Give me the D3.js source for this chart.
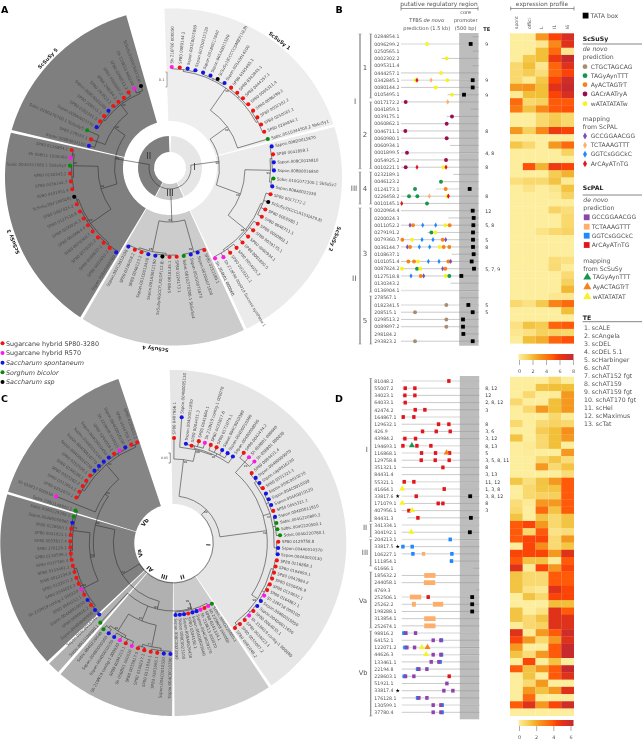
<!DOCTYPE html>
<html><head><meta charset="utf-8">
<script src="https://cdn.jsdelivr.net/npm/d3@7"></script>
<style>
html,body{margin:0;padding:0;background:#fff}
svg{display:block;will-change:transform}
text{font-family:"DejaVu Sans",sans-serif}
</style></head><body><div id="c"></div>
<script>
/* ===== DATA ===== */
const treeA_S1=["Sh 216F06 000050","SP80 0080144.2","Sspon.001E0015080","Sspon.001D0015320","Sspon.001B0017640","Sspon.001A0011580","ScSuSy1|GCCCCDM|EF(10,8)","Sspon.001A0014200","SP80 0105495.1","SP80 0342845.1","SP80 0444257.1","SP80 0095311.4","SP80 0096299.2","SP80 0002302.2","SP80 0250565.1","SP80 0284854.1","Sobic.001G344500.2 SbSuSy1"];
const treeA_S2=["Sspon.008D0015870","SP80 0041859.1","Sspon.008C0015810","Sspon.008B0016850","Sobic.010G072300.1 SbSuSy2","Sspon.008A0022250","SP80 0017172.2","ScSuSy2|CCCLR155|A29,8)","SP80 0060980.1","SP80 0046711.1","SP80 0060862.1","SP80 0039175.1","SP80 0060934.1","SP80 0001899.5","SP80 0054925.2","SP80 0010221.1","Sh 210F04 000010 Sucrose synthase 1","Sh 204K01 000060"];
const treeA_S4=["SP80 0232189.1","Sspon.002G0071820","Sspon.002G0071870","Sobic.001G378300.1 SbSuSy4","SP80 0124173.1","SP80 0010145.1","ScSuSy4|GCCFLK0|DF(12,8)","Sspon.001A0011190","Sspon.001C0012430","SP80 0046123.2","SP80 0226458.2","Sspon.002C0010100"];
const treeA_S3=["Sspon.008A0005580","SP80 0011052.2","SP80 0108637.1","SP80 0279191.2","SP80 0079360.7","SP80 0020964.4","SP80 0200024.3","SP80 0127518.8","SP80 0087824.2","ScSuSy3|KF184928|","SP80 0101051.4","SP80 0036144.7","SP80 0130343.2","Sobic.004G357600.1 SbSuSy3","Sh 008I11 1000060","SP80 0136904.1"];
const treeA_S5=["Sspon.008B0003180","SP80 278567.1","Sobic.010G276700.1 SbSuSy5","Sspon.008A0003730","SP80 0182341.5","SP80 208515.1","Sspon.008C0003280","SP80 293823.2","SP80 298184.2","SP80 0089897.2","SP80 0298513.2","Sh 119E13 600200","ScSuSy5|GGF|SW72(4)"];
const distA_default=[.673,.693,.593,.667,.56];
const distA_over={"Sobic.010G276700.1 SbSuSy5":.607,"ScSuSy5|GGF|SW72(4)":.58,"Sh 119E13 600200":.58,"SP80 0298513.2":.575,"Sh 204K01 000060":.673,"Sobic.001G344500.2 SbSuSy1":.68,"Sspon.008B0003180":.56};
const cladeNamesA=["ScSuSy 1","ScSuSy 2","ScSuSy 4","ScSuSy 3","ScSuSy 5"];

const treeC_I=["SP80 0407956.1","Sspon.004B0005130","Sspon.004D0011800","SP80 0084431.3","SP80 0041664.1","Sh 210N19 contig-1 000070","SP80 0033817.6","SP80 0171079.1","Sspon.004C0010380","Sspon.004D0010380","Sspon.004B0008000","SP80 0042474.2","Sh 058B01 000040","Sh 058B01 000030","SP80 0084431.4","Sspon.004B0009070","Sspon.cap0816230","SP80 0351321.1","Sspon.004C0010270","Sspon.004C0010300","Sspon.004A0010120","SP80 0055321.1","Sspon.004D0011910","Sobic.004G220800.2","Sobic.004G220500.1","Sobic.004G220780.1","SP80 0129758.8","Sspon.004A0010370","Sspon.004A0010130","SP80 0116868.1","SP80 0194693.1","SP80 0043984.2","SP80 0350426.9","SP80 0129632.1","SP80 0164867.1","Sh 226F18 000100","Sspon.004B0015050","Sspon.004D0011650","SP80 0064033.1","Sh 210N19 contig-1 000060","SP80 0034023.1","SP80 0055007.2","SP80 0081048.2"];
const treeC_II=["Sobic.004G220880.1","Sh 235M08 000060","SP80 0341334.1","Sh 218E13 000020","Sspon.004C0029370","Sspon.004D0029660","SP80 0304192.1","Sspon.008A0026430","Sspon.008C0023100","Sspon.008C0023090"];
const treeC_III=["Sspon.004C0010290","Sspon.004C0010320","SP80 0061666.1","SP80 0111854.1","SP80 0106227.1","SP80 0033817.5","Sh 058B01 000020","SP80 0204213.1","Sh 210N19 contig-1 000030","Sspon.004D0010150","Sspon.004B0000360","Sobic.004G220440"];
const treeC_AI=["Sobic.001G108800.1"];
const treeC_Va=["Sspon.004C0010340","Sspon.004B0009950","SP80 0098816.2","Sspon.004A0010050","SP80 0064152.1","Sh 210N19 contig-1 000220","SP80 0044626.3","SP80 0122071.2","SP80 0022194.8","SP80 0133461.1","SP80 0037780.4","SP80 0130599.1","SP80 176128.1","SP80 0033817.4","SP80 0051921.1","SP80 0228603.1","Sspon.004B0009960","Sobic.004G229300.1","Sobic.008G146800.1"];
const treeC_Vb=["Sh 010F13 000010","SP80 0252674.1","SP80 0313854.1","SP80 0025262.2","SP80 0198288.1","SP80 0252506.1","Sspon.004D0010750","Sspon.004D0010770","Sspon.004B0010140","Sspon.004C0010450","SP80 0244058.1","Sh 220M08 000020","Sspon.004C0010190","SP80 0044758.1","SP80 0185632.2"];
const distC_default=[.525,.36,.555,.54,.515,.535];
const distC_over={"Sspon.004B0005130":.63,"SP80 0042474.2":.572,"Sh 058B01 000040":.572,"Sh 058B01 000030":.575,"Sh 010F13 000010":.63,"SP80 0084431.3":.495,"Sspon.004D0011800":.5,"Sobic.004G220780.1":.535};
const cladeNamesC=["I","II","III","AI","Va","Vb"];

const speciesNames=["Sugarcane hybrid SP80-3280","Sugarcane hybrid R570","Saccharum spontaneum","Sorghum bicolor","Saccharum ssp"];

const rowsB=["0284854.1","0096299.2","0250565.1","0002302.2","0095311.4","0444257.1","0342845.1","0080144.2","0105495.1","0017172.2","0041859.1","0039175.1","0060862.1","0046711.1","0060980.1","0060934.1","0001899.5","0054925.2","0010221.1","0232189.1","0046123.2","0124173.1","0226458.2","0010145.1","0020964.4","0200024.3","0011052.2","0279191.2","0079360.7","0036144.7","0108637.1","0101051.4","0087824.2","0127518.8","0130343.2","0136904.1","278567.1","0182341.5","208515.1","0298513.2","0089897.2","298184.2","293823.2"];
const startB=[-150,-2000,-150,-950,-150,-2000,-2000,-2000,-800,-2000,-200,-820,-2000,-2000,-2000,-735,-2000,-2000,-2000,-650,-970,-1105,-2000,-2000,-2000,-780,-2000,-1320,-2000,-2000,-690,-2000,-2000,-2000,-720,-2000,-480,-2000,-2000,-2000,-2000,-430,-2000];
const lightB=[1,6,16,21,35,37];
const marksB=[[1,"yellow",-1329],[1,"TATA",-202],[3,"yellow",-821],[5,"yellow",-968],[6,"yellow",-1621],[6,"dRed",-1587],[6,"dLight",-1225],[6,"yellow",-804],[6,"TATA",-150],[7,"yellow",-1105],[7,"TATA",-150],[8,"yellow",-684],[8,"TATA",-374],[9,"maroon",-1879],[9,"dLight",-795],[11,"maroon",-684],[12,"maroon",-821],[13,"maroon",-1888],[14,"maroon",-821],[16,"maroon",-1845],[17,"maroon",-838],[18,"maroon",-1879],[18,"dRed",-1587],[18,"yellow",-907],[18,"dRed",-838],[20,"green",-968],[21,"green",-1638],[21,"orange",-847],[21,"TATA",-228],[22,"green",-1793],[22,"green",-1578],[22,"dLight",-1268],[22,"yellow",-804],[22,"dRed",-778],[23,"dRed",-1982],[23,"green",-1329],[24,"TATA",-150],[25,"TATA",-125],[26,"dPurple",-1767],[26,"orange",-1690],[26,"dBlue",-1440],[26,"dBlue",-1105],[26,"yellow",-856],[26,"orange",-744],[26,"TATA",-133],[27,"green",-1217],[27,"yellow",-1114],[27,"TATA",-142],[28,"orange",-1965],[28,"yellow",-1716],[28,"dBlue",-1458],[28,"dBlue",-1174],[28,"orange",-925],[28,"dPurple",-847],[28,"TATA",-142],[29,"dPurple",-1836],[29,"orange",-1767],[29,"dBlue",-1526],[29,"dBlue",-1260],[29,"yellow",-1002],[29,"orange",-899],[29,"orange",-753],[29,"TATA",-142],[30,"TATA",-125],[31,"orange",-1810],[31,"orange",-1664],[31,"yellow",-1561],[31,"dBlue",-1294],[31,"dBlue",-1019],[31,"orange",-778],[31,"dPurple",-718],[31,"TATA",-176],[32,"yellow",-1974],[32,"green",-1587],[32,"yellow",-1501],[32,"dPurple",-925],[32,"orange",-856],[32,"TATA",-116],[33,"dBlue",-1742],[33,"orange",-1492],[33,"dPurple",-1415],[33,"yellow",-847],[33,"green",-753],[33,"TATA",-443],[37,"tan",-830],[37,"TATA",-262],[38,"tan",-1638],[38,"TATA",-150],[39,"tan",-830],[39,"TATA",-400],[40,"tan",-830],[40,"TATA",-400],[41,"TATA",-391],[42,"tan",-1638],[42,"TATA",-150]];
const teB=[[1,"9"],[6,"9"],[8,"9"],[13,"8"],[16,"4, 8"],[18,"8"],[22,"8"],[24,"12"],[26,"5, 8"],[28,"5"],[29,"8"],[32,"5, 7, 9"],[37,"5"],[38,"5"]];

const rowsD=["81048.2","55007.2","34023.1","64033.1","42474.2","164867.1","129632.1","426.9","43984.2","194693.1","116868.1","129758.8","351321.1","84431.4","55321.1","41664.1","33817.6","171079.1","407956.1","84431.3","341334.1","304192.1","204213.1","33817.5","106227.1","111854.1","61666.1","185632.2","244058.1","4769.3","252506.1","25262.2","198288.1","313854.1","252674.1","98816.2","64152.1","122071.2","44626.3","133461.1","22194.8","228603.1","51921.1","33817.4","176128.1","130599.1","37780.4"];
const startD=[-2000,-2000,-2000,-2000,-2000,-2000,-2000,-2000,-2000,-2000,-2000,-2000,-2000,-2000,-2000,-2000,-2000,-2000,-2000,-1850,-2000,-2000,-2000,-2000,-2000,-780,-150,-2000,-2000,-80,-2000,-2000,-2000,-2000,-2000,-2000,-2000,-2000,-2000,-2000,-2000,-2000,-2000,-2000,-2000,-2000,-2000];
const lightD=[0,1,5,9,10,14,15,16,20,22,30,35,37,38,45];
const squaresD=[[0,"red",-783],[1,"red",-1909],[1,"red",-1660],[2,"red",-1918],[2,"red",-1660],[3,"red",-1909],[4,"red",-1651],[4,"red",-1402],[5,"red",-1961],[5,"red",-1686],[6,"red",-1049],[6,"red",-783],[7,"red",-1462],[7,"red",-1109],[7,"red",-748],[8,"red",-1918],[8,"red",-1643],[9,"red",-1969],[9,"red",-1608],[9,"red",-1247],[10,"red",-1488],[10,"red",-1127],[10,"red",-765],[11,"red",-1496],[11,"red",-1135],[11,"red",-774],[12,"red",-937],[14,"red",-1935],[14,"red",-1686],[15,"red",-903],[16,"red",-1625],[17,"red",-1058],[17,"red",-937],[18,"red",-1815],[19,"red",-1582],[22,"blue",-748],[23,"blue",-1969],[23,"blue",-1729],[24,"blue",-1711],[24,"light",-1436],[24,"blue",-705],[25,"blue",-714],[30,"red",-1316],[35,"blue",-1944],[35,"purple",-1892],[35,"purple",-1643],[36,"purple",-1187],[36,"blue",-972],[36,"purple",-989],[37,"blue",-1918],[37,"purple",-1866],[37,"purple",-1668],[38,"purple",-1187],[38,"blue",-972],[38,"purple",-989],[39,"purple",-1238],[39,"blue",-1006],[39,"purple",-1041],[40,"blue",-1591],[40,"purple",-1557],[40,"purple",-1350],[41,"blue",-1935],[41,"purple",-1901],[41,"purple",-1686],[41,"red",-774],[42,"purple",-834],[43,"purple",-912],[43,"purple",-679],[44,"blue",-1591],[44,"purple",-1557],[44,"purple",-1350],[45,"purple",-1187],[45,"blue",-955],[45,"purple",-989],[46,"purple",-1187],[46,"blue",-955],[46,"purple",-989]];
const rectsD=[[27,-1419,-1127],[28,-1428,-1135],[30,-1789,-1496],[31,-1737,-1634],[31,-1195,-929],[33,-1419,-1127],[34,-1419,-1127]];
const trianglesD=[[9,"tGreen",-1737],[10,"tOrange",-843],[15,"tYellow",-1987],[17,"tYellow",-1987],[18,"tYellow",-1729],[21,"tYellow",-1754],[37,"tYellow",-1479],[37,"tOrange",-1333],[38,"tYellow",-1367]];
const tataD=[[16,-232],[19,-215],[21,-241],[30,-181],[31,-181],[32,-181]];
const teD=[[1,"8, 12"],[2,"12"],[3,"2, 8, 12"],[4,"3"],[6,"8"],[7,"3, 6"],[8,"3, 12"],[9,"8, 13"],[10,"5"],[11,"3, 5, 8, 11"],[12,"8"],[13,"3, 13"],[14,"11, 12"],[15,"1, 3, 8"],[16,"3, 8, 12"],[17,"8"],[18,"3"]];
const starredD=[16,23,43];

const heatCols=["spont","offici","L","I1","I6"];
const heatB=[[0,0,3,5.5,7],[0,0,.3,3.5,6.5],[0,0,2,4.5,.3],[0,1.6,2,6,8],[1,2,.3,4.7,6.5],[1,1.5,.8,4.5,5.5],[1,.2,1.7,5.5,7.5],[3,3.2,2,6.5,8],[.2,2,2,5.5,7],[4.5,1,1.3,5,5],[4,1.8,3.5,5,5.2],[0,0,1,1.5,1],[0,0,1,1.6,1],[3,1.3,3.5,6,5.5],[0,0,0,0,0],[1.7,1,0,3,4.5],[0,0,0,0,1.2],[0,0,0,0,0],[0,5.2,2.3,6,5.5],[0,0,0,1.5,2.3],[.7,1,1,1.8,.2],[0,.5,0,.4,1.8],[0,0,0,.2,1.2],[0,0,0,0,0],[0,0,0,1.2,.8],[0,0,0,0,1],[0,0,0,0,1],[0,0,.5,1,1.2],[0,0,0,0,0],[0,0,0,0,0],[0,0,0,0,0],[0,0,0,.8,.6],[0,0,0,.9,.1],[0,0,0,0,.9],[0,0,0,0,1.3],[0,0,0,0,2.2],[0,0,0,.3,.3],[1,.6,1.6,3.7,4.5],[0,0,0,0,2],[0,0,0,0,0],[.6,1.8,1.5,4.7,5],[.3,.6,1.3,1.2,1],[.1,2,2.5,4.7,5.2]];
const heatD=[[0,0,0,.75,0],[0,0,1.35,1.5,1.5],[0,.75,0,.1,2.25],[.75,0,0,1.5,2.25],[0,.75,2.25,1.5,2.25],[0,0,0,.75,.1],[.75,0,.7,.9,.75],[0,0,1.1,1.5,2.5],[1.35,0,.75,1.5,2.25],[0,.15,.75,1.5,0],[0,.1,0,0,2.25],[0,0,.75,1.3,.6],[0,0,2.25,.7,1.35],[0,0,0,0,.6],[1.3,.5,1.35,2.25,3.75],[0,.75,1.3,1.35,3.75],[0,.75,.9,1,3.75],[.6,.15,2.25,2.25,3.75],[.75,0,3.4,1.35,3.75],[1.35,0,1.35,.75,1.35],[3.75,4.1,2.25,.75,1.35],[3.75,.75,3.75,.4,.6],[3.75,4.1,4.1,.7,2.25],[0,4.1,2.5,.7,1.3],[4.1,4.1,4.1,2.25,4.9],[3.75,1.35,1.35,.1,3.75],[4.9,.1,4.1,2.25,4.1],[1.35,.75,.7,3.75,3.75],[1.35,.75,.7,3.75,3.75],[1.35,.4,.2,4.9,4.1],[0,1.35,.75,4.1,4.1],[0,0,0,1.5,1.5],[1.35,0,.4,4.9,3.75],[1.35,.7,1.35,4.9,4.9],[.1,.75,.9,4.9,4.9],[4.9,.1,2.25,3.75,5.6],[4.1,2.25,.75,2.25,4.9],[2.25,0,0,3.75,6],[1.35,.6,2.25,3.75,6],[0,4.1,0,1.35,0],[3.75,1.35,2.25,3.75,6],[0,1.35,0,3.75,4.9],[0,.7,2.25,0,0],[0,2.25,1.35,2.25,4.9],[0,3.4,0,0,0],[3.75,4.9,2.25,4.1,5.6],[0,0,0,0,0]];
const heatTicksB=[0,2,4,6,8], heatTicksD=[0,2,4,6];

const teNames=["scALE","scAngela","scDEL","scDEL 5.1","scHarbinger","schAT","schAT152 fgt","schAT159","schAT159 fgt","schAT170 fgt","scHel","scMaximus","scTat"];
const legendDeNovoSu=[["CTGCTAGCAG","tan"],["TAGyAynTTT","green"],["AyACTAGTrT","orange"],["GACrAATryA","maroon"],["wATATATATw","yellow"]];
const legendMapSu=[["GCCGGAACGG","dPurple"],["TCTAAAGTTT","dLight"],["GGTCsGGCkC","dBlue"],["ArCAyATnTG","dRed"]];
const legendDeNovoPal=[["GCCGGAACGG","purple"],["TCTAAAGTTT","light"],["GGTCsGGCkC","blue"],["ArCAyATnTG","red"]];
const legendMapPal=[["TAGyAynTTT","tGreen"],["AyACTAGTrT","tOrange"],["wATATATAT","tYellow"]];

/* ===== STYLE ===== */
const colors={tan:"#a98d70",green:"#17964c",orange:"#f7821b",maroon:"#9b0d50",yellow:"#f6f41e",dPurple:"#7d4fb5",dLight:"#fdae6b",dBlue:"#1e88ff",dRed:"#e3151c",purple:"#8e44ad",light:"#fdae6b",blue:"#1e88ff",red:"#e3151c",tGreen:"#17964c",tOrange:"#f7821b",tYellow:"#f6f41e",TATA:"#000"};
const tipColor=n=>n.startsWith("SP80")?"#f01414":n.startsWith("Sh ")?"#ff18e8":n.startsWith("Sspon")?"#1414e6":n.startsWith("Sobic")?"#0a8a0a":"#000";
const speciesColors=["#f01414","#ff18e8","#1414e6","#0a8a0a","#000"];
const heatStops=[[0,"#fdee9e"],[1,"#f9d86e"],[2,"#f2bf38"],[3,"#f5981f"],[4,"#fb7a12"],[5,"#ff5a0a"],[5.5,"#fb4207"],[6.5,"#e0321a"],[8,"#c62a2e"]];

const svg=d3.select("#c").append("svg").attr("width",642).attr("height",739).attr("viewBox","0 0 642 739");
const TXT="#555";

/* ===== HELPERS ===== */
const rad=a=>a*Math.PI/180;
const polar=(c,r,a)=>[c[0]+r*Math.sin(rad(a)),c[1]-r*Math.cos(rad(a))];
function tree(d,b,...kids){return {d,b,kids};}
const tip=name=>({name});
function ladder(names,d,b,chunk=4){
  const groups=[];for(let i=0;i<names.length;i+=chunk)groups.push(names.slice(i,i+chunk));
  return tree(d,b,...groups.map(g=>g.length>1?tree(d+.012,null,...g.map(tip)):tip(g[0])));
}
function wedge(hub,oc,r0,R,a0,a1){
  const pts=[];const n=60;
  const rayHit=a=>{const dx=Math.sin(rad(a)),dy=-Math.cos(rad(a));const fx=hub[0]-oc[0],fy=hub[1]-oc[1];
    const b=fx*dx+fy*dy,cc=fx*fx+fy*fy-R*R;return -b+Math.sqrt(b*b-cc);};
  d3.range(n+1).forEach(i=>{const a=a0+(a1-a0)*i/n;pts.push(polar(hub,rayHit(a),a));});
  d3.range(n+1).forEach(i=>{const a=a1-(a1-a0)*i/n;pts.push(polar(hub,r0,a));});
  return d3.line()(pts)+"Z";
}
function drawTree(g,hub,rootNode,radial,angleOf,distOf,labelSize){
  const root=d3.hierarchy(rootNode,n=>n.kids);
  root.eachAfter(n=>{ if(n.children){const as=n.children.map(c=>c.a);n.a=(d3.min(as)+d3.max(as))/2;n.dd=n.data.d;} else {n.a=angleOf(n.data.name);n.dd=distOf(n.data.name);} });
  const p=d3.path();
  root.each(n=>{ if(!n.children)return;
    const as=n.children.map(c=>c.a);const r=radial(n.dd);
    p.moveTo(...polar(hub,r,d3.min(as)));
    p.arc(hub[0],hub[1],r,rad(d3.min(as)-90),rad(d3.max(as)-90));
    n.children.forEach(c=>{p.moveTo(...polar(hub,r,c.a));p.lineTo(...polar(hub,radial(c.dd),c.a));});
  });
  g.append("path").attr("d",p.toString()).attr("fill","none").attr("stroke","#2b2b2b").attr("stroke-width",.55);
  const nodes=root.descendants().filter(n=>n.children&&n.data.b);
  g.selectAll("text.b").data(nodes).join("text").attr("class","b").attr("font-size",2.8).attr("fill","#333")
    .attr("text-anchor","middle").attr("transform",n=>{const q=polar(hub,radial(n.dd)-2,n.a+1.6);return `translate(${q})`;}).attr("dy",1).text(n=>n.data.b);
  const leaves=root.leaves();
  g.selectAll("circle.tip").data(leaves).join("circle").attr("class","tip")
    .attr("cx",n=>polar(hub,radial(n.dd),n.a)[0]).attr("cy",n=>polar(hub,radial(n.dd),n.a)[1]).attr("r",2.05)
    .attr("fill",n=>tipColor(n.data.name));
  g.selectAll("text.tl").data(leaves).join("text").attr("class","tl").attr("font-size",labelSize).attr("fill","#4a4a4a")
    .attr("dy",labelSize*.36)
    .attr("text-anchor",n=>n.a>180?"end":"start")
    .attr("transform",n=>{const q=polar(hub,radial(n.dd)+3.6,n.a);const rot=n.a>180?n.a+90:n.a-90;return `translate(${q}) rotate(${rot})`;})
    .text(n=>n.data.name);
}

/* ===== PANEL A ===== */
(function(){
  const hub=[170,168], oc=[173.5,177], R=168.5;
  const g=svg.append("g");
  const sectors=[[-2,75,"#eeeeee"],[76,154.5,"#ebebeb"],[155.5,210,"#cccccc"],[211,282.5,"#7f7f7f"],[283.5,344,"#7f7f7f"]];
  g.selectAll("path.s").data(sectors).join("path").attr("class","s").attr("d",d=>wedge(hub,oc,47,R,d[0],d[1])).attr("fill",d=>d[2]);
  const ring=d3.arc().innerRadius(16).outerRadius(32);
  const rings=[[2,153,"#e6e6e6","I",88],[155,206,"#c8c8c8","III",180],[208,358,"#7f7f7f","II",300]];
  g.selectAll("path.r").data(rings).join("path").attr("class","r")
    .attr("d",d=>ring({startAngle:rad(d[0]),endAngle:rad(d[1])})).attr("transform",`translate(${hub})`).attr("fill",d=>d[2]);
  const clades=[treeA_S1,treeA_S2,treeA_S4,treeA_S3,treeA_S5];
  const ranges=[[1,73.5],[78,153.5],[157.3,207.9],[212.5,280.4],[285.3,340.5]];
  const ang=new Map(),dist=new Map();
  clades.forEach((names,i)=>{const s=d3.scalePoint().domain(names).range(ranges[i]);
    names.forEach(n=>{ang.set(n,s(n));dist.set(n,distA_over[n]??distA_default[i]);});});
  const radial=d3.scaleLinear([0,1],[0,150]);
  const S1=tree(.47,"99",ladder(treeA_S1.slice(0,16),.65,"99"),tip(treeA_S1[16]));
  const S2=tree(.5,"99",ladder(treeA_S2.slice(0,6),.67,"99"),ladder(treeA_S2.slice(6),.65,"98"));
  const S4=tree(.36,"99",ladder(treeA_S4.slice(0,4),.57,"99"),ladder(treeA_S4.slice(4),.57,"98"));
  const S3=tree(.48,"99",ladder(treeA_S3.slice(0,10),.645,"99"),ladder(treeA_S3.slice(10),.645,"98"));
  const S5=tree(.46,"98",tree(.52,null,tip(treeA_S5[0]),tip(treeA_S5[1]),tip(treeA_S5[2])),ladder(treeA_S5.slice(3),.535,"96"));
  const rootT=tree(.14,null,tree(.33,"99",S1,S2),S4,tree(.37,"99",S3,S5));
  drawTree(g,hub,rootT,radial,n=>ang.get(n),n=>dist.get(n),3.95);
  g.selectAll("text.rl").data(rings).join("text").attr("class","rl").attr("font-size",8.5).attr("font-family","Liberation Serif").attr("fill","#333")
    .attr("text-anchor","middle").attr("dy",3).attr("transform",d=>`translate(${polar(hub,24.5,d[4])})`).text(d=>d[3]);
  g.append("path").attr("d","M165.5,72H167V87H165.5").attr("fill","none").attr("stroke","#555").attr("stroke-width",.5);
  g.append("text").attr("x",164.5).attr("y",81).attr("font-size",3.6).attr("text-anchor","end").attr("fill","#555").text("0.1");
  const ca=[37.9,111,186,248,-46.7];
  g.selectAll("text.cn").data(cladeNamesA).join("text").attr("class","cn").attr("font-size",5.1).attr("font-weight",600).attr("fill","#222").attr("text-anchor","middle")
    .attr("transform",(d,i)=>`translate(${polar(oc,171,ca[i])}) rotate(${ca[i]})`).text(d=>d);
})();

/* ===== PANEL C ===== */
(function(){
  const hub=[173.3,543], R=173;
  const g=svg.append("g");
  const sectors=[[-1.2,145.5,"#e6e6e6"],[146.5,179.6,"#cccccc"],[180.4,220.7,"#b0b0b0"],[221.7,225.8,"#b0b0b0"],[226.8,286.4,"#808080"],[287.2,341.5,"#858585"]];
  g.selectAll("path.s").data(sectors).join("path").attr("class","s").attr("d",d=>wedge(hub,hub,39,R,d[0],d[1])).attr("fill",d=>d[2]);
  const clades=[treeC_I,treeC_II,treeC_III,treeC_AI,treeC_Va,treeC_Vb];
  const ranges=[[.4,144],[147.6,178.2],[181.5,219],[222.5,222.5],[226,288.3],[291.7,340.3]];
  const ang=new Map(),dist=new Map();
  clades.forEach((names,i)=>{const s=d3.scalePoint().domain(names).range(ranges[i]);
    names.forEach(n=>{ang.set(n,s(n));dist.set(n,distC_over[n]??distC_default[i]);});});
  const radial=d3.scaleLinear([0,1],[0,200]);
  const Ia=tree(.42,"99",tip(treeC_I[0]),tree(.48,"88",tip(treeC_I[1]),ladder(treeC_I.slice(2,11),.485,"96")));
  const Ib=tree(.47,"99",tree(.54,"94",...treeC_I.slice(11,14).map(tip)),ladder(treeC_I.slice(14,29),.505,"97"),ladder(treeC_I.slice(29),.505,"98"));
  const II=tree(.31,"99",ladder(treeC_II,.345,"99",3));
  const III=tree(.42,"91",ladder(treeC_III.slice(0,6),.53,"77"),ladder(treeC_III.slice(6),.52,"81"));
  const Va=tree(.42,"99",ladder(treeC_Va.slice(0,10),.5,"96"),ladder(treeC_Va.slice(10),.505,"79"));
  const Vb=tree(.42,"99",tip(treeC_Vb[0]),ladder(treeC_Vb.slice(1),.515,"99"));
  const rest=tree(.3,"52",tree(.34,"84",II,III,tip(treeC_AI[0])),tree(.4,"99",Va,Vb));
  const rootT=tree(.2,null,tree(.235,"99",Ia,Ib),rest);
  drawTree(g,hub,rootT,radial,n=>ang.get(n),n=>dist.get(n),3.95);
  const la=[93,165,195,222,253,306];
  g.selectAll("text.cl").data(cladeNamesC).join("text").attr("class","cl").attr("font-size",5.8).attr("font-weight",600).attr("fill","#222")
    .attr("text-anchor","middle").attr("dy",2).attr("transform",(d,i)=>`translate(${polar(hub,35,la[i])}) rotate(${la[i]})`).text(d=>d);
  g.append("path").attr("d","M168.5,453H170.3V463H168.5").attr("fill","none").attr("stroke","#444").attr("stroke-width",.6);
  g.append("text").attr("x",168).attr("y",459).attr("font-size",3.2).attr("text-anchor","end").attr("fill","#555").text("0.05");
})();

/* species legend */
const ys=d3.scalePoint().domain(speciesNames).range([343.3,382]);
const lg=svg.append("g");
lg.selectAll("circle").data(speciesNames).join("circle").attr("cx",2.5).attr("cy",d=>ys(d)).attr("r",2).attr("fill",(d,i)=>speciesColors[i]);
lg.selectAll("text").data(speciesNames).join("text").attr("x",6).attr("y",d=>ys(d)+2.2).attr("font-size",6.4).attr("fill","#444")
  .attr("font-style",(d,i)=>i>1?"italic":"normal").text(d=>d);

/* panel letters */
[["A",1,13],["B",335.5,13],["C",1,401.5],["D",335,401.5]].forEach(l=>{
  svg.append("text").attr("x",l[1]).attr("y",l[2]).attr("font-size",9.5).attr("font-weight",700).attr("fill","#000").text(l[0]);
});

/* ===== PROMOTER PANELS ===== */
function promoter(rows,y,x,starts,lights,boxY,labelX){
  const g=svg.append("g");
  g.append("rect").attr("x",x(-500)).attr("width",x(0)-x(-500)).attr("y",boxY[0]).attr("height",boxY[1]-boxY[0]).attr("fill","#bdbdbd");
  rows.forEach((r,i)=>{
    const light=lights.includes(i);
    g.append("line").attr("x1",x(starts[i])).attr("x2",x(0)).attr("y1",y(r)).attr("y2",y(r))
      .attr("stroke",light?"#e3e3e3":"#b3b3b3").attr("stroke-width",light?1.5:.7);
    g.append("line").attr("x1",x(Math.max(starts[i],-500))).attr("x2",x(0)).attr("y1",y(r)).attr("y2",y(r))
      .attr("stroke","#a7a7a7").attr("stroke-width",light?1.2:.8);
  });
  g.selectAll("text.rowl").data(rows).join("text").attr("class","rowl").attr("x",labelX).attr("y",d=>y(d)+1.7).attr("font-size",4.65).attr("fill",TXT).text(d=>d);
  return g;
}
function marker(g,kind,px,py){
  const c=colors[kind];
  if(kind==="TATA"){g.append("rect").attr("x",px-1.9).attr("y",py-1.9).attr("width",3.8).attr("height",3.8).attr("fill","#000");}
  else if(kind[0]==="d"){g.append("path").attr("d",d3.symbol(d3.symbolDiamond,8)()).attr("transform",`translate(${px},${py})`).attr("fill",c);}
  else if(kind[0]==="t"&&kind!=="tan"){g.append("path").attr("d",d3.symbol(d3.symbolTriangle,15)()).attr("transform",`translate(${px},${py-.3})`).attr("fill",c);}
  else if(["red","purple","blue","light"].includes(kind)){g.append("rect").attr("x",px-1.7).attr("y",py-1.9).attr("width",3.4).attr("height",3.8).attr("fill",c);}
  else {g.append("circle").attr("cx",px).attr("cy",py).attr("r",1.95).attr("fill",c);}
}
function bar(g,x,y0,y1,cap,w){
  g.append("path").attr("d",`M${x-cap},${y0}H${x+cap}M${x},${y0}V${y1}M${x-cap},${y1}H${x+cap}`).attr("fill","none").attr("stroke","#999").attr("stroke-width",.6);
  g.append("line").attr("x1",x).attr("x2",x).attr("y1",y0).attr("y2",y1).attr("stroke","#8e8e8e").attr("stroke-width",w);
}

// Panel B
const yB=d3.scalePoint().domain(rowsB).range([36.7,341.2]);
const xB=d3.scaleLinear([-2000,0],[401,478.5]);
const gB=promoter(rowsB,yB,xB,startB,lightB,[33,345.7],374.3);
marksB.forEach(m=>marker(gB,m[1],xB(m[2]),yB(rowsB[m[0]])));
gB.selectAll("text.te").data(teB).join("text").attr("class","te").attr("x",485.3).attr("y",d=>yB(rowsB[d[0]])+1.8).attr("font-size",4.7).attr("fill","#333").text(d=>d[1]);
const T=(x,y,s,o={})=>svg.append("text").attr("x",x).attr("y",y).attr("font-size",o.size||5.7).attr("fill",o.fill||"#555")
  .attr("text-anchor",o.anchor||"start").attr("font-weight",o.weight||null).attr("font-style",o.style||null).attr("font-family",o.family||null).text(s);
[[360,34,168.7],[360,172,204],[360,208,344]].forEach(b=>bar(svg,b[0],b[1],b[2],1.5,1.1));
[[370.7,34,98],[370.7,102,168.7],[370.7,172,204],[370.7,208,292],[370.7,296,344]].forEach(b=>bar(svg,b[0],b[1],b[2],1.5,1.1));
[["I",355,104],["III",354,190.5],["II",354.3,280.5]].forEach(l=>T(l[1],l[2],l[0],{size:7.5,anchor:"middle",family:"Liberation Serif"}));
[["1",67],["2",134],["4",188],["3",253],["5",320]].forEach(l=>T(365,l[1]+2.6,l[0],{size:7,anchor:"middle"}));
T(439,5.5,"putative regulatory region",{size:5.9,anchor:"middle"});
svg.append("path").attr("d","M401,6.5V10.5M401,8.5H478M478,6.5V10.5").attr("fill","none").attr("stroke","#555").attr("stroke-width",.6);
const h1=T(426.7,22,"TFBS ",{size:5.1,anchor:"middle"});h1.append("tspan").attr("font-style","italic").text("de novo");
T(426.7,30,"prediction (1.5 kb)",{size:5.1,anchor:"middle"});
T(465.7,14,"core",{size:5.1,anchor:"middle"});T(465.7,22,"promoter",{size:5.1,anchor:"middle"});T(465.7,30,"(500 bp)",{size:5.1,anchor:"middle"});
T(486.7,31,"TE",{size:5,weight:700,anchor:"middle",fill:"#222"});

// Panel D
const yD=d3.scalePoint().domain(rowsD.map((r,i)=>i)).range([381,712.3]);
const yDn=r=>yD(rowsD.indexOf(r));
const xD=d3.scaleLinear([-2000,0],[401.7,479.2]);
const gD=promoter(rowsD,yDn,xD,startD,lightD,[376,719.3],374.3);
rectsD.forEach(m=>gD.append("rect").attr("x",xD(m[1])).attr("width",xD(m[2])-xD(m[1])).attr("y",yD(m[0])-2.4).attr("height",4.8).attr("fill","#fdae6b"));
squaresD.forEach(m=>marker(gD,m[1],xD(m[2]),yD(m[0])));
trianglesD.forEach(m=>marker(gD,m[1],xD(m[2]),yD(m[0])));
tataD.forEach(m=>marker(gD,"TATA",xD(m[1]),yD(m[0])));
starredD.forEach(i=>gD.append("path").attr("d",d3.symbol(d3.symbolStar,5)()).attr("transform",`translate(397.7,${yD(i)})`).attr("fill","#000"));
gD.selectAll("text.te").data(teD).join("text").attr("class","te").attr("x",485.3).attr("y",d=>yD(d[0])+1.8).attr("font-size",4.7).attr("fill","#333").text(d=>d[1]);
[[370.7,378.5,521.5],[370.7,524,537],[370.7,539.5,566],[370.7,572,628],[370.7,631,716]].forEach(b=>bar(svg,b[0],b[1],b[2],1.5,1.1));
[["I",366.7,451.5],["II",365,530],["III",365,555]].forEach(l=>T(l[1],l[2],l[0],{size:7.2,anchor:"middle",family:"Liberation Serif"}));
T(363,603,"Va",{size:6.6,anchor:"middle"});T(363,675,"Vb",{size:6.6,anchor:"middle"});

/* ===== HEATMAPS ===== */
function heat(values,yr,domainMax,ticks,barY){
  const g=svg.append("g");
  const x=d3.scaleBand().domain(heatCols).range([510,574]);
  const y=d3.scaleBand().domain(d3.range(values.length)).range(yr);
  const k=domainMax/8;
  const col=d3.scaleLinear().domain(heatStops.map(s=>s[0]*k)).range(heatStops.map(s=>s[1])).clamp(true);
  values.forEach((row,i)=>row.forEach((v,j)=>{
    g.append("rect").attr("x",x(heatCols[j])).attr("y",y(i)).attr("width",x.bandwidth()).attr("height",y.bandwidth()+.3).attr("fill",col(v));
  }));
  const id="grad"+domainMax;
  const grad=svg.append("defs").append("linearGradient").attr("id",id);
  heatStops.forEach(s=>grad.append("stop").attr("offset",(s[0]/8*100)+"%").attr("stop-color",s[1]));
  const bx=d3.scaleLinear([0,domainMax],[519,domainMax===8?573:570.5]);
  g.append("rect").attr("x",518.5).attr("y",barY).attr("width",55).attr("height",6).attr("fill",`url(#${id})`);
  const axis=d3.axisBottom(bx).tickValues(ticks).tickSize(5).tickFormat(d3.format("d"));
  const ag=g.append("g").attr("transform",`translate(0,${barY+6})`).call(axis);
  ag.select(".domain").remove();
  ag.selectAll("line").attr("stroke","#777").attr("stroke-width",.6);
  ag.selectAll("text").attr("font-size",4.9).attr("fill",TXT).attr("font-family",'"DejaVu Sans"').attr("dy",".95em");
}
heat(heatB,[33.3,343.3],8,heatTicksB,354);
heat(heatD,[376.7,715.7],6,heatTicksD,720);
const cx=[516.7,529.7,541.7,554.3,567.7];
heatCols.forEach((c,i)=>svg.append("text").attr("transform",`translate(${cx[i]+1.6},29) rotate(-90)`).attr("font-size",4.6).attr("fill",TXT).text(c));
T(542,5.5,"expression profile",{size:5.9,anchor:"middle"});
svg.append("path").attr("d","M510.7,6.5V10.5M510.7,8.5H574M574,6.5V10.5").attr("fill","none").attr("stroke","#555").attr("stroke-width",.6);

/* ===== RIGHT LEGEND ===== */
svg.append("rect").attr("x",582.7).attr("y",12.7).attr("width",5.8).attr("height",5.8).attr("fill","#000");
T(590.5,18,"TATA box",{size:6.2});
const HEAD=(y,s,uy)=>{T(582.7,y,s,{size:6.2,weight:700,fill:"#222"});svg.append("line").attr("x1",582.7).attr("x2",642).attr("y1",uy).attr("y2",uy).attr("stroke","#666").attr("stroke-width",.8);};
const legG=svg.append("g");
const ITEM=(kind,label,mx,tx,y,big)=>{
  if(big==="sq"){legG.append("rect").attr("x",mx-2.9).attr("y",y-2.9).attr("width",5.8).attr("height",5.8).attr("fill",colors[kind]);}
  else if(big==="tri"){legG.append("path").attr("d",d3.symbol(d3.symbolTriangle,28)()).attr("transform",`translate(${mx},${y})`).attr("fill",colors[kind]);}
  else if(big==="dia"){legG.append("path").attr("d",d3.symbol(d3.symbolDiamond,14)()).attr("transform",`translate(${mx},${y})`).attr("fill",colors[kind]);}
  else {legG.append("circle").attr("cx",mx).attr("cy",y).attr("r",2.4).attr("fill",colors[kind]);}
  T(tx,y+2,label,{size:6.05});
};
HEAD(40.5,"ScSuSy",44);
T(582.7,51.3,"de novo",{size:6.2,style:"italic"});T(582.7,59.3,"prediction",{size:6.2});
legendDeNovoSu.forEach((l,i)=>ITEM(l[1],l[0],585,590.7,[66.7,75.7,84.7,94,103.7][i]));
T(582.7,120.7,"mapping",{size:6.2});T(582.7,128.7,"from ScPAL",{size:6.2});
legendMapSu.forEach((l,i)=>ITEM(l[1],l[0],585,590.7,[136,145.3,154.3,163.7][i],"dia"));
HEAD(190.3,"ScPAL",195);
T(583.3,202,"de novo",{size:6.2,style:"italic"});T(583.3,210,"prediction",{size:6.2});
legendDeNovoPal.forEach((l,i)=>ITEM(l[1],l[0],586.7,591.7,[217.3,226.7,235.7,245][i],"sq"));
T(583.3,262.7,"mapping",{size:6.2});T(583.3,270.7,"from ScSuSy",{size:6.2});
legendMapPal.forEach((l,i)=>ITEM(l[1],l[0],587.3,592.7,[277.3,287,296.7][i],"tri"));
HEAD(319.7,"TE",321.7);
const yTE=d3.scalePoint().domain(teNames).range([328,424.3]);
teNames.forEach((n,i)=>T(584,yTE(n)+2,(i+1)+". "+n,{size:6.2}));
</script></body></html>
